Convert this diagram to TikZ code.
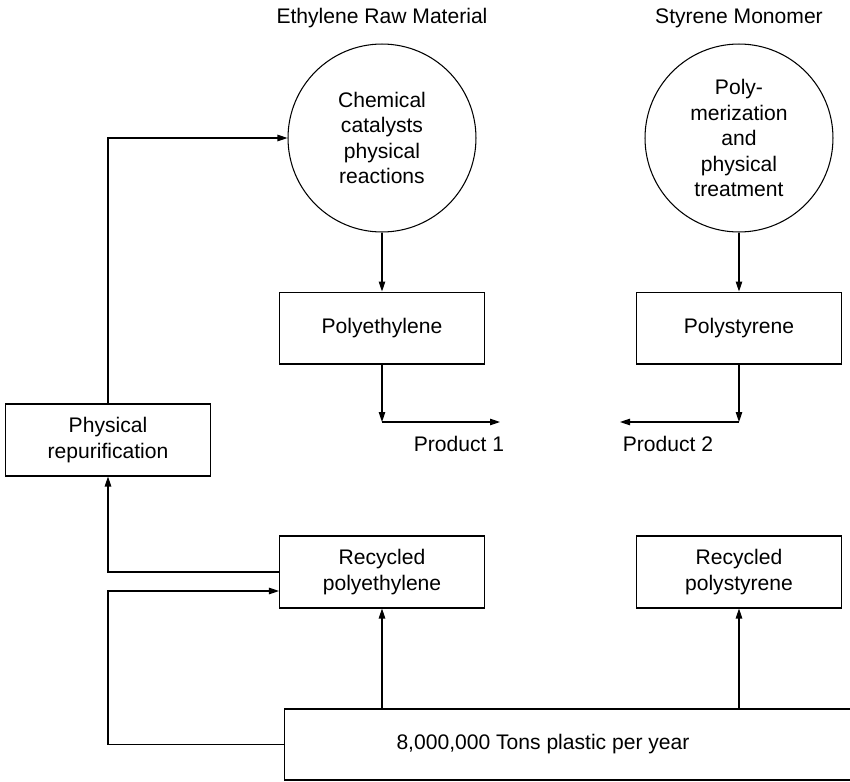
\documentclass[tikz,border=0pt]{standalone}
\usepackage{fontspec}
\setmainfont{Liberation Sans}
\usetikzlibrary{arrows.meta, positioning}

\begin{document}
\begin{tikzpicture}[
  x=0.02cm, y=-0.02cm,
  font=\fontsize{12}{14.5}\selectfont,
  >={Triangle[length=2mm, width=1.3mm]},
  line width=0.6pt,
  box/.style={draw, align=center, minimum width=4.1cm, minimum height=1.44cm, inner sep=2pt},
  unit/.style={draw, circle, align=center, minimum size=3.76cm, inner sep=0pt},
  arrow/.style={->},
  lbl/.style={anchor=base, inner sep=0pt}
]
\useasboundingbox (0,0) rectangle (850,782);

% process circles and their feeds
\node[unit] (ethyl) at (382,138) {Chemical\\catalysts\\physical\\reactions};
\node[unit] (styr) at (739,138) {Poly-\\merization\\and\\physical\\treatment};
\node[lbl] (ethylT) at (382,23) {Ethylene Raw Material};
\node[lbl] (styrT) at (739,23) {Styrene Monomer};

\node[box, below=1.18cm of ethyl] (pe) {Polyethylene};
\node[box, below=1.18cm of styr] (ps) {Polystyrene};

\node[box] (repur) at (108,440) {Physical\\repurification};
\node[box] (rpe) at (382,572) {Recycled\\polyethylene};
\node[box] (rps) at (739,572) {Recycled\\polystyrene};
\node[box, minimum width=11.36cm, minimum height=1.42cm,
  label={[xshift=-0.5cm]center:8,000,000 Tons plastic per year}] (plastic) at (568,744.5) {};

\node[lbl] (prod1) at (459,451) {Product 1};
\node[lbl] (prod2) at (668,451) {Product 2};

\coordinate (p1turn) at (pe.south |- 0,422);
\coordinate (p1end) at (500,422);
\coordinate (p2turn) at (ps.south |- 0,422);
\coordinate (p2end) at (620,422);
\coordinate (rpeIn) at ([yshift=-0.38cm]rpe.west);

\draw[arrow] (ethyl) -- (pe);
\draw[arrow] (styr) -- (ps);
\draw[arrow] (pe.south) -- (p1turn);
\draw[arrow] (p1turn) -- (p1end);
\draw[arrow] (ps.south) -- (p2turn);
\draw[arrow] (p2turn) -- (p2end);

% recycling loop
\draw[arrow] (repur.north) |- (ethyl.west);
\draw[arrow] (rpe.west) -| (repur.south);
\draw[arrow] (plastic.west) -| (repur.south |- rpeIn) -- (rpeIn);
\draw[arrow] (rpe.south |- plastic.north) -- (rpe.south);
\draw[arrow] (rps.south |- plastic.north) -- (rps.south);
\end{tikzpicture}
\end{document}
